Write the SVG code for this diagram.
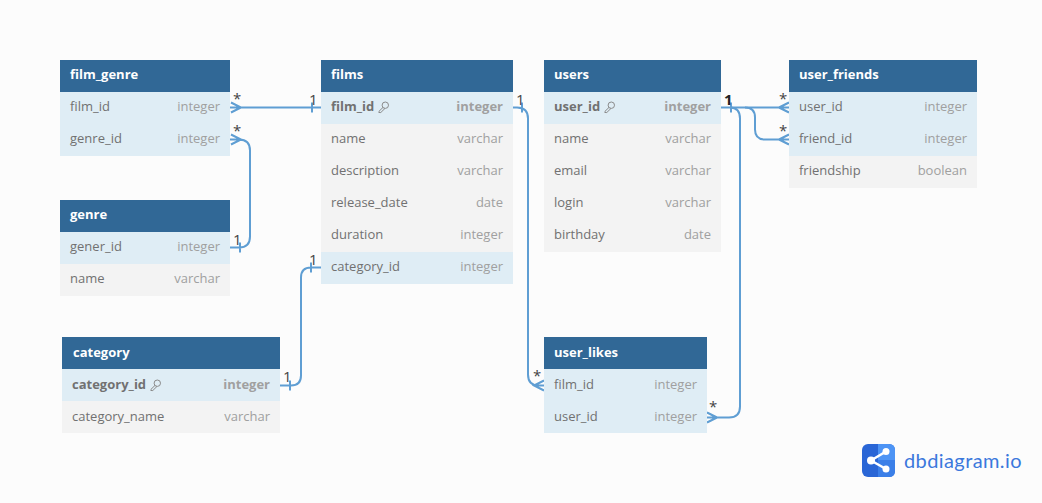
<svg xmlns="http://www.w3.org/2000/svg" width="1042" height="503" viewBox="0 0 1042 503">
<style>
text{font-family:"Open Sans","Noto Sans","Liberation Sans",sans-serif;font-size:13px}
.bg{fill:#fcfcfc}
.h{fill:#316896}
.a{fill:#f3f3f3}
.b{fill:#dfedf5}
.t{fill:#fff;font-weight:700}
.n{fill:#717171}
.y{fill:#a0a0a0;text-anchor:end}
.bd{font-weight:700}
.c{fill:none;stroke:#5f9ed3;stroke-width:2}
.l{fill:#444;font-size:15px}
.k{fill:none;stroke:#8a8a8a;stroke-width:1}
</style>
<defs>
<g id="key"><circle cx="7.300" cy="-5.800" r="3.200" class="k"/><path d="M5 -3.600L1 0.300L0.800 1.500L2.800 1.500L7 -2.600" class="k"/></g>
</defs>
<rect class="bg" width="1042" height="503"/>
<g id="connectors">
<path class="c" d="M230 107.500H321M231 102.500L241 107.500L231 112.500M312 102.500V112.500"/>
<path class="c" d="M230 139.500H239Q250 139.500 250 150.500V236.500Q250 247.500 239 247.500H230M231 134.500L241 139.500L231 144.500M240 242.500V252.500"/>
<path class="c" d="M321 267.500H311Q301 267.500 301 277.500V375.500Q301 385.500 291 385.500H280M311 262.500V272.500M290 380.500V390.500"/>
<path class="c" d="M513 107.500H517Q528 107.500 528 118.500V374.500Q528 385.500 539 385.500H544M522 102.500V112.500M544 380.500L534 385.500L544 390.500"/>
<path class="c" d="M721 107.500H789M779 107.500L789 102.500M779 107.500L789 112.500M731 102.500V112.500"/>
<path class="c" d="M745 107.500Q755 107.500 755 117.500V129.500Q755 139.500 765 139.500H789M779 139.500L789 134.500M779 139.500L789 144.500"/>
<path class="c" d="M730 107.500Q740 107.500 740 118.500V406.500Q740 417.500 729 417.500H707M717 417.500L707 412.500M717 417.500L707 422.500"/>
</g>
<g id="film_genre">
<rect class="h" x="60" y="60" width="170" height="32"/>
<rect class="b" x="60" y="92" width="170" height="64"/>
<text class="t" x="70" y="79">film_genre</text>
<text class="n" x="70" y="111">film_id</text><text class="y" x="220" y="111">integer</text>
<text class="n" x="70" y="143">genre_id</text><text class="y" x="220" y="143">integer</text>
</g>
<g id="genre">
<rect class="h" x="60" y="200" width="170" height="32"/>
<rect class="b" x="60" y="232" width="170" height="32"/>
<rect class="a" x="60" y="264" width="170" height="32"/>
<text class="t" x="70" y="219">genre</text>
<text class="n" x="70" y="251">gener_id</text><text class="y" x="220" y="251">integer</text>
<text class="n" x="70" y="283">name</text><text class="y" x="220" y="283">varchar</text>
</g>
<g id="category">
<rect class="h" x="62" y="337" width="218" height="32"/>
<rect class="b" x="62" y="369" width="218" height="32"/>
<rect class="a" x="62" y="401" width="218" height="32"/>
<text class="t" x="73" y="357">category</text>
<text class="n bd" x="72" y="389">category_id</text><use href="#key" x="150" y="389"/><text class="y bd" x="270" y="389">integer</text>
<text class="n" x="72" y="421">category_name</text><text class="y" x="270" y="421">varchar</text>
</g>
<g id="films">
<rect class="h" x="321" y="60" width="192" height="32"/>
<rect class="b" x="321" y="92" width="192" height="32"/>
<rect class="a" x="321" y="124" width="192" height="128"/>
<rect class="b" x="321" y="252" width="192" height="32"/>
<text class="t" x="331" y="79">films</text>
<text class="n bd" x="331" y="111">film_id</text><use href="#key" x="378" y="111"/><text class="y bd" x="503" y="111">integer</text>
<text class="n" x="331" y="143">name</text><text class="y" x="503" y="143">varchar</text>
<text class="n" x="331" y="175">description</text><text class="y" x="503" y="175">varchar</text>
<text class="n" x="331" y="207">release_date</text><text class="y" x="503" y="207">date</text>
<text class="n" x="331" y="239">duration</text><text class="y" x="503" y="239">integer</text>
<text class="n" x="331" y="271">category_id</text><text class="y" x="503" y="271">integer</text>
</g>
<g id="users">
<rect class="h" x="544" y="60" width="177" height="32"/>
<rect class="b" x="544" y="92" width="177" height="32"/>
<rect class="a" x="544" y="124" width="177" height="128"/>
<text class="t" x="554" y="79">users</text>
<text class="n bd" x="554" y="111">user_id</text><use href="#key" x="604" y="111"/><text class="y bd" x="711" y="111">integer</text>
<text class="n" x="554" y="143">name</text><text class="y" x="711" y="143">varchar</text>
<text class="n" x="554" y="175">email</text><text class="y" x="711" y="175">varchar</text>
<text class="n" x="554" y="207">login</text><text class="y" x="711" y="207">varchar</text>
<text class="n" x="554" y="239">birthday</text><text class="y" x="711" y="239">date</text>
</g>
<g id="user_friends">
<rect class="h" x="789" y="60" width="188" height="32"/>
<rect class="b" x="789" y="92" width="188" height="64"/>
<rect class="a" x="789" y="156" width="188" height="32"/>
<text class="t" x="799" y="79">user_friends</text>
<text class="n" x="799" y="111">user_id</text><text class="y" x="967" y="111">integer</text>
<text class="n" x="799" y="143">friend_id</text><text class="y" x="967" y="143">integer</text>
<text class="n" x="799" y="175">friendship</text><text class="y" x="967" y="175">boolean</text>
</g>
<g id="user_likes">
<rect class="h" x="544" y="337" width="163" height="32"/>
<rect class="b" x="544" y="369" width="163" height="64"/>
<text class="t" x="554" y="357">user_likes</text>
<text class="n" x="554" y="389">film_id</text><text class="y" x="697" y="389">integer</text>
<text class="n" x="554" y="421">user_id</text><text class="y" x="697" y="421">integer</text>
</g>
<g id="labels">
<text class="l" x="233" y="104">*</text><text class="l" x="309" y="105">1</text>
<text class="l" x="233" y="136">*</text><text class="l" x="233" y="245">1</text>
<text class="l" x="309" y="265">1</text><text class="l" x="283" y="382">1</text>
<text class="l" x="516" y="105">1</text><text class="l" x="533" y="381">*</text>
<text class="l" x="724" y="105" style="fill:#222;font-weight:700">1</text><text class="l" x="779" y="104">*</text>
<text class="l" x="779" y="136">*</text><text class="l" x="709" y="412">*</text>
</g>
<g id="logo">
<rect x="862" y="444" width="33" height="33" rx="6" fill="#2a66d6"/>
<path d="M878 444H889Q895 444 895 450V460H878Z" fill="#4d94f5"/>
<path d="M878 460H895V471Q895 477 889 477H878Z" fill="#3b7fe8"/>
<path d="M886 451.500L871 460.500L886 469" fill="none" stroke="#fff" stroke-width="2.500"/>
<circle cx="886" cy="451.500" r="3.500" fill="#fff"/><circle cx="871" cy="460.500" r="4" fill="#fff"/><circle cx="886" cy="469" r="3.500" fill="#fff"/>
<text x="904" y="468" style="font-family:Lato,'Open Sans',sans-serif;font-size:20px;fill:#3b78dc;letter-spacing:.4px">dbdiagram.io</text>
</g>
</svg>
